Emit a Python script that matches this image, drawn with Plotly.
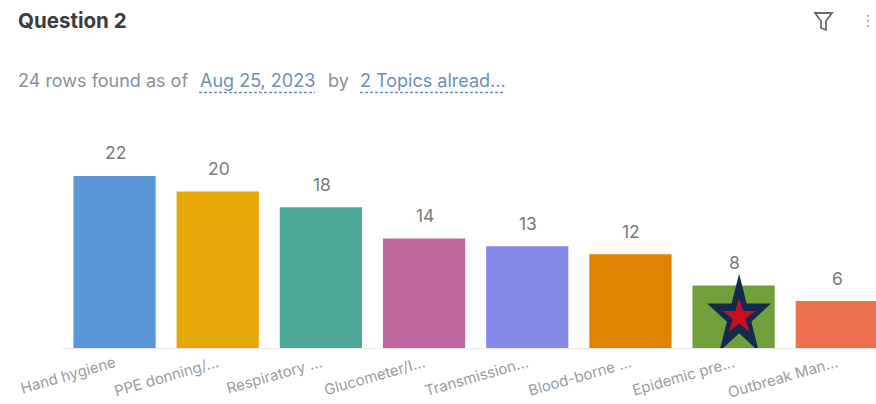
import math
import plotly.graph_objects as go

# Topic counts behind the bar chart
categories = ["Hand hygiene", "PPE donning/...", "Respiratory ...", "Glucometer/I...",
              "Transmission...", "Blood-borne ...", "Epidemic pre...", "Outbreak Man..."]
counts = [22, 20, 18, 14, 13, 12, 8, 6]
bar_colors = ["#5b97d8", "#e6a806", "#4fa99a", "#c2669f",
              "#858ae8", "#e08300", "#6fa03c", "#ee704e"]

# Anchor of the star drawn over the highlighted bar
star_category = "Epidemic pre..."
star_value = 4

WIDTH, HEIGHT = 876, 404
BASELINE = 348


def px(x):
    return x / WIDTH


def py(y):
    return (BASELINE - y) / BASELINE


def star_path(rx, ry, dx):
    """Five-pointed star outline, in pixel offsets from its anchor."""
    pts = []
    for i in range(10):
        k = 1.0 if i % 2 == 0 else 0.382
        a = math.pi / 2 - i * math.pi / 5
        pts.append((dx + rx * k * math.cos(a), ry * k * math.sin(a)))
    return "M " + " L ".join(f"{x:.2f},{y:.2f}" for x, y in pts) + " Z"


fig = go.Figure()
fig.add_bar(x=categories, y=counts, marker=dict(color=bar_colors, line_width=0),
            width=0.797, hoverinfo="x+y", showlegend=False)

annotations = [
    dict(x=c, y=v, xref="x", yref="y", text=str(v), showarrow=False, yshift=23, xshift=1,
         font=dict(family="Inter", size=17.5, color="#7a7a7a"))
    for c, v in zip(categories, counts)
]


def label(x, y, text, size, color, bold=False):
    return dict(x=px(x - 2), y=py(y), xref="paper", yref="paper", xanchor="left", yanchor="middle",
                text=f"<b>{text}</b>" if bold else text, showarrow=False,
                font=dict(family="Inter", size=size, color=color))


annotations += [
    label(18, 20, "Question 2", 20.5, "#3a3c40", bold=True),
    label(18, 80, "24 rows found as of", 18, "#8d9095"),
    label(200, 80, "Aug 25, 2023", 18, "#6c8fba"),
    label(328, 80, "by", 18, "#8d9095"),
    label(360, 80, "2 Topics alread...", 18, "#6c8fba"),
]

shapes = [
    # Baseline starts at the left edge of the first bar's band
    dict(type="line", xref="paper", yref="paper", x0=px(62), x1=1, y0=py(348.5), y1=py(348.5),
         line=dict(color="#e6e8ea", width=1), layer="below"),
]

# Dashed underlines under the linked filter text
for x0, x1 in [(199, 315), (360, 505)]:
    shapes.append(dict(type="line", xref="paper", yref="paper", x0=px(x0), x1=px(x1),
                       y0=py(92.5), y1=py(92.5),
                       line=dict(color="#6c8fba", width=1.5, dash="3px,2px")))

# Funnel icon
funnel = [(815, 13), (832, 13), (826, 21), (826, 30), (821, 28), (821, 21)]
path = "M " + " L ".join(f"{px(x)},{py(y)}" for x, y in funnel) + " Z"
shapes.append(dict(type="path", xref="paper", yref="paper", path=path,
                   line=dict(color="#6a6d70", width=1.8), fillcolor="rgba(0,0,0,0)"))

# Overflow-menu dots
for y in (16, 21, 26):
    shapes.append(dict(type="circle", xref="paper", yref="paper",
                       x0=px(867), x1=px(869), y0=py(y - 1), y1=py(y + 1),
                       fillcolor="#9a9da1", line_width=0))

# Navy star with a red star inside it, anchored to the bar
for rx, ry, colour in [(33.6, 43, "#15294f"), (17.3, 18.2, "#c8101e")]:
    shapes.append(dict(type="path", xref="x", yref="y", xsizemode="pixel", ysizemode="pixel",
                       xanchor=star_category, yanchor=star_value,
                       path=star_path(rx, ry, 5.5), fillcolor=colour, line_width=0))

fig.update_layout(
    width=WIDTH, height=HEIGHT,
    margin=dict(l=0, r=0, t=0, b=HEIGHT - BASELINE, autoexpand=False),
    paper_bgcolor="#ffffff", plot_bgcolor="#ffffff",
    annotations=annotations, shapes=shapes,
    font=dict(family="Inter"),
    xaxis=dict(type="category", categoryorder="array", categoryarray=categories,
               range=[-1.11, 7.38], showgrid=False, zeroline=False, showline=False,
               ticks="", tickangle=-16, automargin=False, ticklabelstandoff=3,
               tickfont=dict(family="Inter", size=15, color="#9a9da1")),
    yaxis=dict(range=[0, 44.5], visible=False, fixedrange=True),
)

fig.write_html("out.html", config=dict(displayModeBar=False))
